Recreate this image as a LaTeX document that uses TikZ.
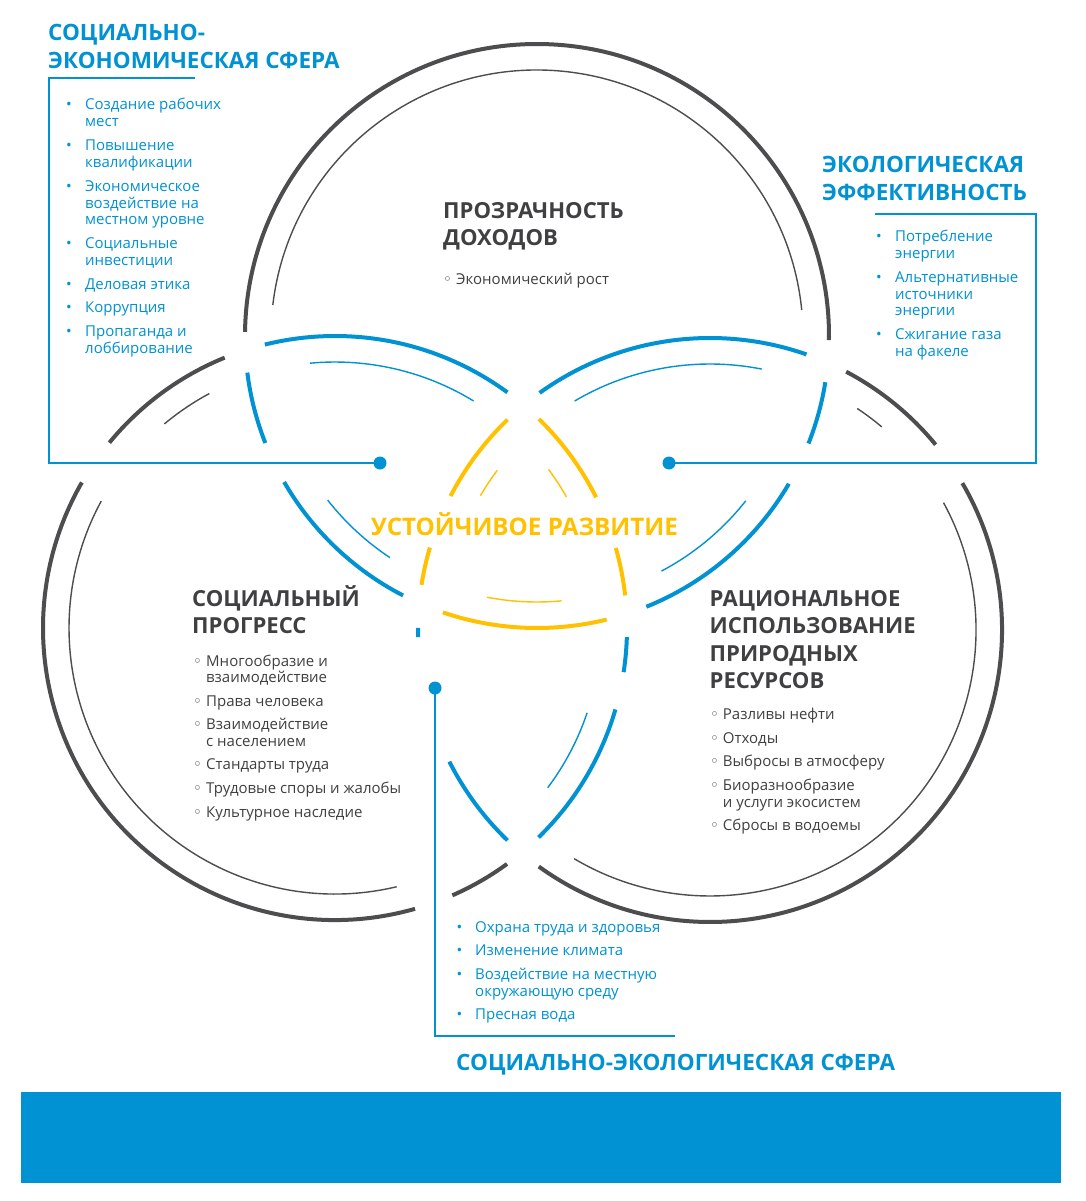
\documentclass[tikz,border=0pt]{standalone}
\usepackage{fontspec}
\setmainfont{Open Sans}
\newfontfamily\bulfont{DejaVu Sans}
\definecolor{cblue}{RGB}{0,146,210}
\definecolor{cdark}{RGB}{77,77,79}
\definecolor{cyel}{RGB}{255,193,0}
\definecolor{ctext}{RGB}{64,64,66}
\newcommand\seg[5]{\draw[#1] (#2) ++(#3:#5) arc[start angle=#3,end angle=#4,radius=#5];}
\newcommand\fb[1]{\makebox[#1][l]{\hspace{0.5pt}•}}
\newcommand\hb[1]{\makebox[#1][l]{{\bulfont ◦}}}
\tikzset{
  thk/.style={line width=4pt},
  thn/.style={line width=1.4pt},
  conn/.style={draw=cblue,line width=2.2pt},
  dotn/.style={circle,fill=cblue,inner sep=0pt,minimum size=13pt},
  head/.style={inner sep=0pt,anchor=base west,font=\bfseries\fontsize{22.1}{27.5}\selectfont},
  bhead/.style={inner sep=0pt,anchor=base west,text=cblue,font=\bfseries\fontsize{22.5}{27.5}\selectfont},
  body/.style={inner sep=0pt,anchor=base west,font=\fontsize{15}{16.7}\selectfont},
}
\begin{document}
\begin{tikzpicture}[x=1pt,y=-1pt]
\fill[white] (0,0) rectangle (1085,1201);
\useasboundingbox (0,0) rectangle (1085,1201);
\coordinate (cT) at (537,336);
\coordinate (cL) at (335,628);
\coordinate (cR) at (710,630);
% ---- top circle
\seg{thk,cdark}{cT}{180.8}{360.8}{292}
\seg{thk,cblue}{cT}{172.8}{158.5}{292}
\seg{thk,cblue}{cT}{150.0}{117.3}{292}
\seg{thk,cyel}{cT}{108.8}{76.2}{292}
\seg{thk,cblue}{cT}{68.0}{30.4}{292}
\seg{thk,cblue}{cT}{21.6}{9.1}{292}
\seg{thn,cdark}{cT}{186.7}{354.4}{266}
\seg{thn,cblue}{cT}{141.9}{123.6}{266}
\seg{thn,cyel}{cT}{100.8}{84.7}{266}
\seg{thn,cblue}{cT}{62.1}{38.3}{266}
% ---- left circle
\seg{thk,cblue}{cL}{-103.9}{-53.8}{292}
\seg{thk,cyel}{cL}{-45.7}{-26.6}{292}
\seg{thk,cyel}{cL}{-15.9}{-6.4}{292}
\seg{thk,cblue}{cL}{1.8}{8.7}{292}
\seg{thk,cblue}{cL}{16.2}{45.8}{292}
\seg{thk,cdark}{cL}{53.9}{66.3}{292}
\seg{thk,cdark}{cL}{74.1}{209.9}{292}
\seg{thk,cdark}{cL}{219.4}{247.8}{292}
\seg{thn,cblue}{cL}{-95.4}{-58.6}{266}
\seg{thn,cyel}{cL}{-36.6}{-29.5}{266}
\seg{thn,cblue}{cL}{18.6}{36.9}{266}
\seg{thn,cdark}{cL}{76.6}{208.5}{266}
\seg{thn,cdark}{cL}{230.1}{241.8}{266}
% ---- right circle
\seg{thk,cblue}{cR}{234.3}{289.3}{292}
\seg{thk,cdark}{cR}{297.8}{320.6}{292}
\seg{thk,cdark}{cR}{329.8}{485.9}{292}
\seg{thk,cblue}{cR}{133.9}{153.2}{292}
\seg{thk,cblue}{cR}{178.6}{180.4}{292}
\seg{thk,cyel}{cR}{188.9}{196.4}{292}
\seg{thk,cyel}{cR}{207.3}{226.1}{292}
\seg{thn,cblue}{cR}{239.4}{281.2}{266}
\seg{thn,cdark}{cR}{303.6}{310.2}{266}
\seg{thn,cdark}{cR}{331.4}{480.7}{266}
\seg{thn,cyel}{cR}{210.3}{216.9}{266}
% ---- connectors
\node[dotn] (d1) at (380,463) {};
\coordinate (b1a) at (49,463);
\coordinate (b1b) at (49,78);
\coordinate (b1c) at (195,78);
\draw[conn] (d1.center) -- (b1a) -- (b1b) -- (b1c);
\node[dotn] (d2) at (669,463) {};
\coordinate (b2a) at (1036,463);
\coordinate (b2b) at (1036,214);
\coordinate (b2c) at (875,214);
\draw[conn] (d2.center) -- (b2a) -- (b2b) -- (b2c);
\node[dotn] (d3) at (435,688) {};
\coordinate (b3a) at (435,1036);
\coordinate (b3b) at (675,1036);
\draw[conn] (d3.center) -- (b3a) -- (b3b);
% ---- bottom bar
\fill[cblue] (21,1092) rectangle (1061,1183);
% ---- headings
\node[bhead] (hSE) at (48,41) {\parbox[t]{400pt}{СОЦИАЛЬНО-\\ЭКОНОМИЧЕСКАЯ СФЕРА}};
\node[bhead] (hEE) at (822,173) {\parbox[t]{300pt}{ЭКОЛОГИЧЕСКАЯ\\ЭФФЕКТИВНОСТЬ}};
\node[head,text=ctext] (hPD) at (443,218) {\parbox[t]{300pt}{ПРОЗРАЧНОСТЬ\\ДОХОДОВ}};
\node[head,text=cyel,font=\bfseries\fontsize{24.2}{27}\selectfont] (hUR) at (371,535) {УСТОЙЧИВОЕ РАЗВИТИЕ};
\node[head,text=ctext] (hSP) at (192,606) {\parbox[t]{300pt}{СОЦИАЛЬНЫЙ\\ПРОГРЕСС}};
\node[head,text=ctext] (hRI) at (709.5,606) {\parbox[t]{300pt}{РАЦИОНАЛЬНОЕ\\ИСПОЛЬЗОВАНИЕ\\ПРИРОДНЫХ\\РЕСУРСОВ}};
\node[bhead] (hSEC) at (456,1070) {СОЦИАЛЬНО-ЭКОЛОГИЧЕСКАЯ СФЕРА};
% ---- lists
\node[body,text=cblue] (l1) at (65.5,110) {\parbox[t]{300pt}{%
\fb{19.5pt}Создание рабочих\\\hspace*{19.5pt}мест\\[7.3pt]
\fb{19.5pt}Повышение\\\hspace*{19.5pt}квалификации\\[7.3pt]
\fb{19.5pt}Экономическое\\\hspace*{19.5pt}воздействие на\\\hspace*{19.5pt}местном уровне\\[7.3pt]
\fb{19.5pt}Социальные\\\hspace*{19.5pt}инвестиции\\[7.3pt]
\fb{19.5pt}Деловая этика\\[6.3pt]
\fb{19.5pt}Коррупция\\[7.3pt]
\fb{19.5pt}Пропаганда и\\\hspace*{19.5pt}лоббирование}};
\node[body,text=cblue] (l2) at (875.5,241.7) {\parbox[t]{300pt}{%
\fb{19.5pt}Потребление\\\hspace*{19.5pt}энергии\\[7.3pt]
\fb{19.5pt}Альтернативные\\\hspace*{19.5pt}источники\\\hspace*{19.5pt}энергии\\[7.3pt]
\fb{19.5pt}Сжигание газа\\\hspace*{19.5pt}на факеле}};
\node[body,text=ctext] (l3) at (443,284) {\hb{13pt}Экономический рост};
\node[body,text=ctext] (l4) at (193,666) {\parbox[t]{300pt}{%
\hb{13pt}Многообразие и\\\hspace*{13pt}взаимодействие\\[7.3pt]
\hb{13pt}Права человека\\[6.3pt]
\hb{13pt}Взаимодействие\\\hspace*{13pt}с населением\\[6.3pt]
\hb{13pt}Стандарты труда\\[7.3pt]
\hb{13pt}Трудовые споры и жалобы\\[7.3pt]
\hb{13pt}Культурное наследие}};
\node[body,text=ctext] (l5) at (710,719.3) {\parbox[t]{300pt}{%
\hb{12.7pt}Разливы нефти\\[7.3pt]
\hb{12.7pt}Отходы\\[6.7pt]
\hb{12.7pt}Выбросы в атмосферу\\[7.3pt]
\hb{12.7pt}Биоразнообразие\\\hspace*{12.7pt}и услуги экосистем\\[6.7pt]
\hb{12.7pt}Сбросы в водоемы}};
\node[body,text=cblue] (l6) at (456,932.3) {\parbox[t]{300pt}{%
\fb{19pt}Охрана труда и здоровья\\[6.7pt]
\fb{19pt}Изменение климата\\[6.9pt]
\fb{19pt}Воздействие на местную\\\hspace*{19pt}окружающую среду\\[6.6pt]
\fb{19pt}Пресная вода}};
\end{tikzpicture}
\end{document}
